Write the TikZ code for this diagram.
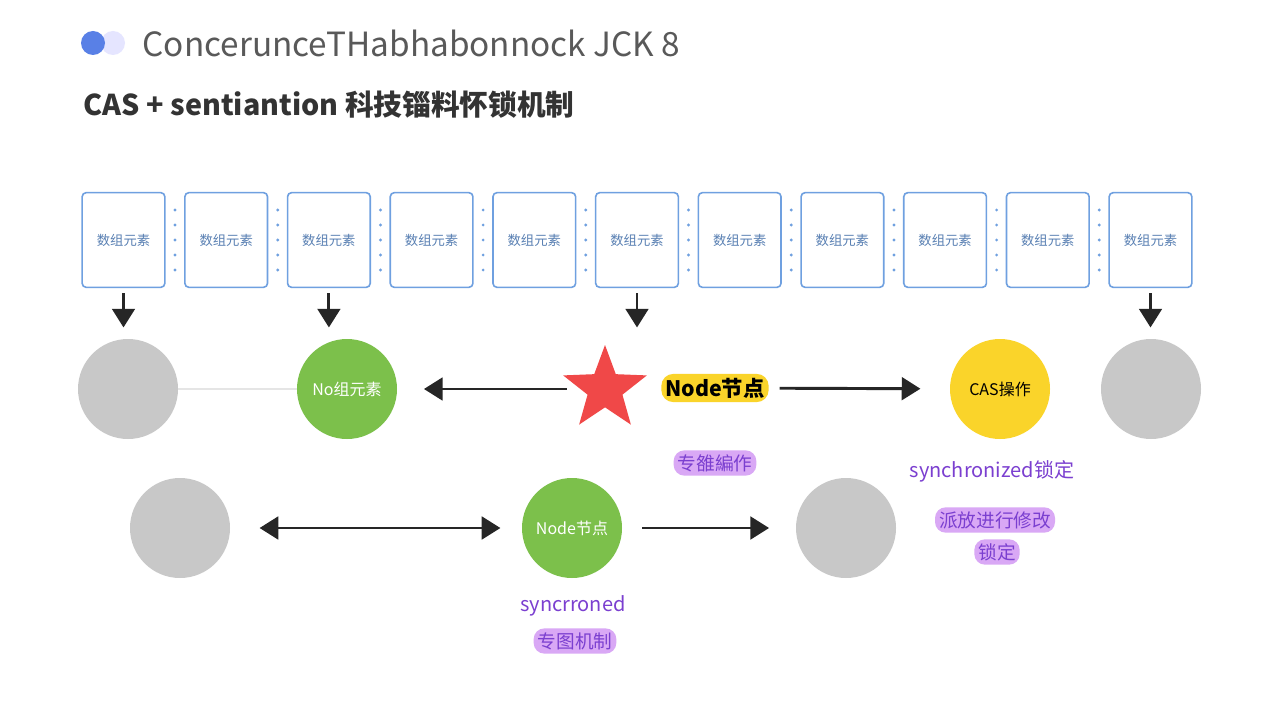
\documentclass[tikz,border=0pt]{standalone}
\usepackage{fontspec}
\setmainfont{Noto Sans CJK SC}
\usetikzlibrary{positioning, shapes.geometric, arrows.meta}
\definecolor{boxblue}{HTML}{6FA0E0}
\definecolor{nodegreen}{HTML}{7CC04B}
\definecolor{nodegray}{HTML}{C8C8C8}
\definecolor{nodeyellow}{HTML}{FAD42A}
\definecolor{pillpurple}{HTML}{D9A8F5}
\definecolor{textpurple}{HTML}{7B3FD0}
\definecolor{starred}{HTML}{F04848}
\begin{document}
\begin{tikzpicture}[
    x=0.75pt, y=-0.75pt,
    % --- STYLES ---
    elem/.style={draw=boxblue, line width=1.2pt, rounded corners=3pt, minimum width=62pt, minimum height=71pt, font=\fontsize{10}{12}\selectfont, text=boxblue!80!black, fill=white},
    ball/.style={circle, minimum size=75pt, inner sep=0pt, font=\fontsize{12}{14}\selectfont},
    pill/.style={rounded corners=8pt, fill=pillpurple, text=textpurple, inner sep=3pt, font=\fontsize{14}{16}\selectfont},
    note/.style={text=textpurple, font=\fontsize{15}{18}\selectfont},
    link/.style={line width=2.2pt, black!85, -{Triangle[length=14pt, width=17pt]}},
    >=Stealth
]
\useasboundingbox (0,0) rectangle (1280,720);
\fill[white] (0,0) rectangle (1280,720);

% --- HEADER ---
\fill[blue!10] (113,43) circle (12);
\fill[boxblue!80!blue] (93,43) circle (12);
\node (title) [anchor=west, text=black!65, font=\fontsize{25}{30}\selectfont] at (138,43) {ConcerunceTHabhabonnock JCK 8};
\node (subtitle) [anchor=west, text=black!80, font=\bfseries\fontsize{21.5}{26}\selectfont] at (79,105) {CAS + sentiantion 科技锱料怀锁机制};

% --- ARRAY ROW ---
\foreach \i in {0,...,10} {
  \node (e\i) [elem] at (123.5+102.7*\i,240) {数组元素};
}
\foreach \i in {0,...,9} {
  \foreach \dy in {-30,-15,...,30}
    \fill[boxblue] (175+102.7*\i,240+\dy) circle (1.6);
}

% --- ROW 1 ---
\node (g1) [ball, fill=nodegray] at (128,389) {};
\node (green1) [ball, fill=nodegreen, text=white] at (347,389) {No组元素};
\node (star) [star, star points=5, star point ratio=2.4, fill=starred, minimum size=66pt, inner sep=0pt] at (605,389) {};
\node (nodelbl) [rounded corners=9pt, fill=nodeyellow, inner sep=3pt, font=\bfseries\fontsize{16}{18}\selectfont] at (715,388) {Node节点};
\node (cas) [ball, fill=nodeyellow] at (1000,389) {CAS操作};
\node (g2) [ball, fill=nodegray] at (1151,389) {};

% --- ROW 2 ---
\node (g3) [ball, fill=nodegray] at (180,528) {};
\node (green2) [ball, fill=nodegreen, text=white] at (572,528) {Node节点};
\node (g4) [ball, fill=nodegray] at (846,528) {};

% --- LABELS ---
\node (op) [pill] at (715,463) {专雒編作};
\node (sync) [note] at (992,471) {synchronized锁定};
\node (modify) [pill] at (995,520) {派放进行修改};
\node (lock) [pill] at (997,552) {锁定};
\node (syncr) [note] at (573,606) {syncrroned};
\node (mech) [pill] at (575,641) {专图机制};

% Edges
\foreach \i in {0,2,5,10}
  \draw [link] ([yshift=-4pt]e\i.south) -- ++(0,34);
\draw [black!10, line width=2pt] (g1) -- (green1);
\draw [link, shorten >=20pt, shorten <=10pt] (star) -- (green1);
\draw [link, shorten >=22pt, shorten <=8pt] (nodelbl) -- (cas);
\draw [link, {Triangle[length=14pt, width=17pt]}-{Triangle[length=14pt, width=17pt]}, shorten >=16pt, shorten <=22pt] (g3) -- (green2);
\draw [link, shorten >=20pt, shorten <=15pt] (green2) -- (g4);

\end{tikzpicture}
\end{document}
